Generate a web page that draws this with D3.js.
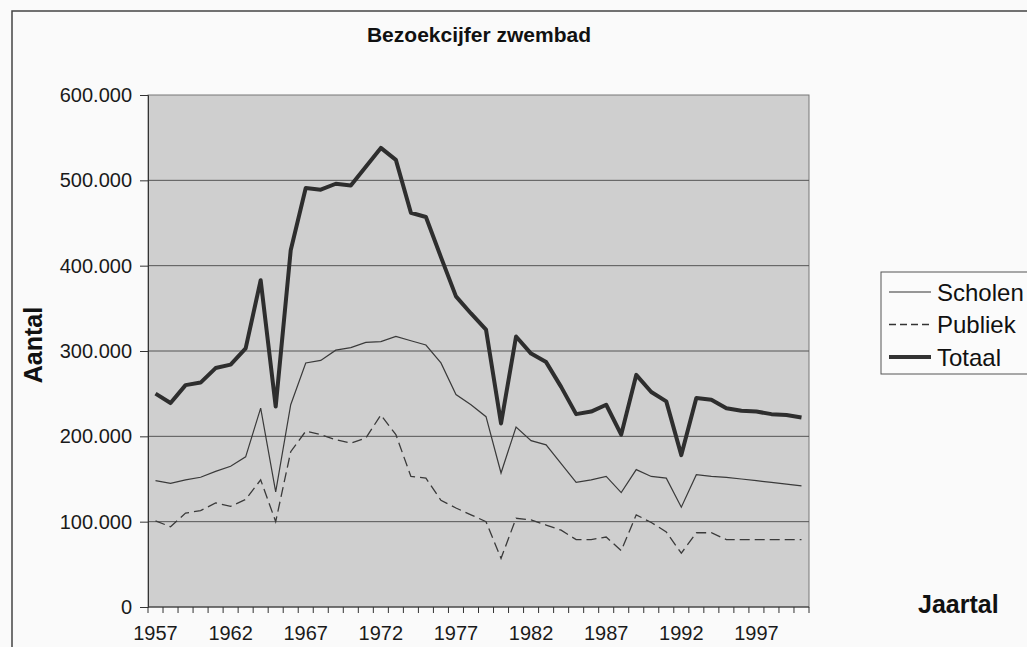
<!DOCTYPE html>
<html>
<head>
<meta charset="utf-8">
<script src="https://cdn.jsdelivr.net/npm/d3@7"></script>
<style>
  body { margin: 0; background: #fafafa; }
  svg { display: block; font-family: "Liberation Sans", Arial, sans-serif; }
</style>
</head>
<body>
<svg id="chart" width="1027" height="647"></svg>
<script>
// jaartallen en bezoekcijfers
var years = d3.range(1957, 2001);
var scholen = [148000, 145000, 149000, 152000, 159000, 165000, 176000, 233000, 135000, 237000,
               286000, 289000, 301000, 304000, 310000, 311000, 317000, 312000, 307000, 286000,
               249000, 237000, 223000, 157000, 211000, 195000, 190000, 168000, 146000, 149000,
               153000, 134000, 161000, 153000, 151000, 117000, 155000, 153000, 152000, 150000,
               148000, 146000, 144000, 142000];
var publiek = [101000, 94000, 110000, 113000, 122000, 118000, 126000, 149000, 100000, 182000,
               206000, 202000, 196000, 192000, 198000, 225000, 202000, 153000, 151000, 125000,
               116000, 108000, 100000, 57000, 104000, 102000, 96000, 90000, 79000, 79000,
               82000, 66000, 108000, 99000, 88000, 63000, 87000, 87000, 79000, 79000,
               79000, 79000, 79000, 79000];
var totaal = [250000, 239000, 260000, 263000, 280000, 284000, 303000, 383000, 235000, 418000,
              491000, 489000, 496000, 494000, 516000, 538000, 524000, 462000, 457000, 410000,
              364000, 344000, 325000, 215000, 317000, 297000, 287000, 258000, 226000, 229000,
              237000, 202000, 272000, 252000, 241000, 178000, 245000, 243000, 233000, 230000,
              229000, 226000, 225000, 222000];
var yTicks = [0, 100000, 200000, 300000, 400000, 500000, 600000];
var xLabels = [1957, 1962, 1967, 1972, 1977, 1982, 1987, 1992, 1997];

var svg = d3.select("#chart");
var pLeft = 148, pRight = 809, pTop = 95, pBottom = 607;

var x = d3.scaleBand().domain(years).range([pLeft, pRight]);
var y = d3.scaleLinear().domain([0, 600000]).range([pBottom, pTop]);
var cx = function (yr) { return x(yr) + x.bandwidth() / 2; };

var nl = d3.formatLocale({ decimal: ",", thousands: ".", grouping: [3], currency: ["€", ""] });
var fmt = nl.format(",d");

// buitenrand van de grafiek
svg.append("path")
  .attr("d", "M12,660 L12,11 L1040,11")
  .attr("fill", "none").attr("stroke", "#444").attr("stroke-width", 1.5);

// titel
svg.append("text")
  .attr("x", 479).attr("y", 42)
  .attr("text-anchor", "middle")
  .attr("font-size", 21).attr("font-weight", "bold").attr("fill", "#111")
  .text("Bezoekcijfer zwembad");

// plotgebied
svg.append("rect")
  .attr("x", pLeft).attr("y", pTop)
  .attr("width", pRight - pLeft).attr("height", pBottom - pTop)
  .attr("fill", "#cfcfcf").attr("stroke", "#777").attr("stroke-width", 1);

// rasterlijnen
svg.append("g")
  .selectAll("line")
  .data(yTicks.filter(function (d) { return d > 0 && d < 600000; }))
  .join("line")
  .attr("x1", pLeft).attr("x2", pRight)
  .attr("y1", function (d) { return y(d); }).attr("y2", function (d) { return y(d); })
  .attr("stroke", "#555").attr("stroke-width", 1);

// y-as
var yAxis = svg.append("g")
  .attr("transform", "translate(" + pLeft + ",0)")
  .call(d3.axisLeft(y).tickValues(yTicks).tickFormat(fmt).tickSize(8).tickPadding(8));
yAxis.select(".domain").attr("stroke", "#333");
yAxis.selectAll(".tick line").attr("stroke", "#333");
yAxis.selectAll(".tick text")
  .attr("font-size", 20).attr("fill", "#1a1a1a")
  .attr("font-family", "Liberation Sans, Arial, sans-serif");

// x-as met streepjes op de categoriegrenzen
svg.append("line")
  .attr("x1", pLeft).attr("x2", pRight).attr("y1", pBottom).attr("y2", pBottom)
  .attr("stroke", "#333");
svg.append("g")
  .selectAll("line")
  .data(years.concat([2001]))
  .join("line")
  .attr("x1", function (d) { return d === 2001 ? pRight : x(d); })
  .attr("x2", function (d) { return d === 2001 ? pRight : x(d); })
  .attr("y1", pBottom).attr("y2", pBottom + 6)
  .attr("stroke", "#333");
svg.append("g")
  .selectAll("text")
  .data(xLabels)
  .join("text")
  .attr("x", function (d) { return cx(d); })
  .attr("y", 640)
  .attr("text-anchor", "middle")
  .attr("font-size", 20).attr("fill", "#1a1a1a")
  .text(function (d) { return d; });

// astitels
svg.append("text")
  .attr("transform", "translate(42,345) rotate(-90)")
  .attr("text-anchor", "middle")
  .attr("font-size", 25).attr("font-weight", "bold").attr("fill", "#111")
  .text("Aantal");
svg.append("text")
  .attr("x", 918).attr("y", 613)
  .attr("font-size", 25).attr("font-weight", "bold").attr("fill", "#111")
  .text("Jaartal");

// lijnen
var line = d3.line()
  .x(function (d, i) { return cx(years[i]); })
  .y(function (d) { return y(d); });

svg.append("path").datum(scholen)
  .attr("d", line).attr("fill", "none")
  .attr("stroke", "#3a3a3a").attr("stroke-width", 1.2);
svg.append("path").datum(publiek)
  .attr("d", line).attr("fill", "none")
  .attr("stroke", "#3a3a3a").attr("stroke-width", 1.3)
  .attr("stroke-dasharray", "10,5");
svg.append("path").datum(totaal)
  .attr("d", line).attr("fill", "none")
  .attr("stroke", "#2e2e2e").attr("stroke-width", 4)
  .attr("stroke-linejoin", "round");

// legenda
var legend = svg.append("g");
legend.append("rect")
  .attr("x", 881).attr("y", 272).attr("width", 170).attr("height", 102)
  .attr("fill", "#fbfbfb").attr("stroke", "#555").attr("stroke-width", 1);
var items = [
  { name: "Scholen", w: 1.2, dash: null },
  { name: "Publiek", w: 1.3, dash: "7,4" },
  { name: "Totaal", w: 4, dash: null }
];
var row = legend.selectAll("g.item").data(items).join("g")
  .attr("class", "item")
  .attr("transform", function (d, i) { return "translate(0," + (292 + i * 32.5) + ")"; });
row.append("line")
  .attr("x1", 889).attr("x2", 931).attr("y1", 0).attr("y2", 0)
  .attr("stroke", "#333")
  .attr("stroke-width", function (d) { return d.w; })
  .attr("stroke-dasharray", function (d) { return d.dash; });
row.append("text")
  .attr("x", 937).attr("y", 0).attr("dy", "0.36em")
  .attr("font-size", 24).attr("fill", "#111")
  .text(function (d) { return d.name; });
</script>
</body>
</html>
